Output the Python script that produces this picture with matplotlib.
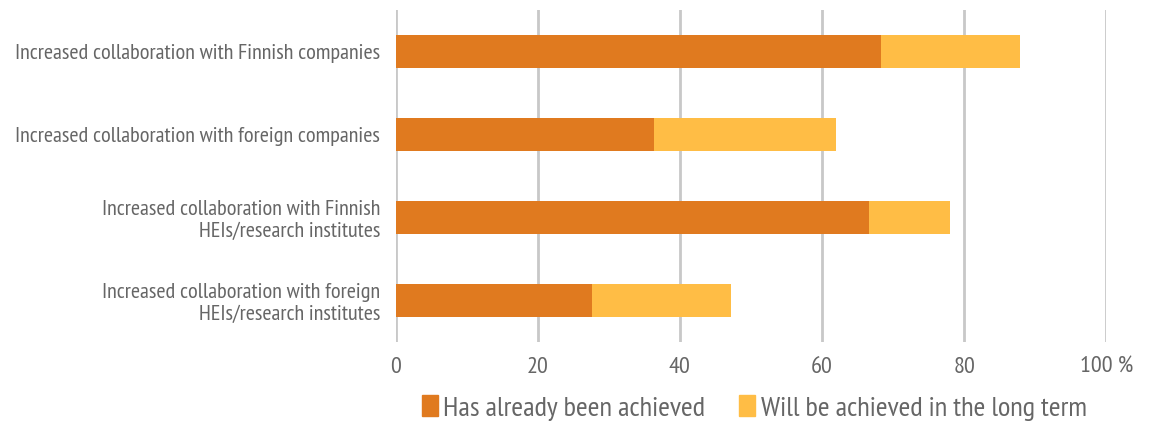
import matplotlib
matplotlib.use("Agg")
import matplotlib.pyplot as plt
from matplotlib.patches import Patch

categories = [
    "Increased collaboration with Finnish companies",
    "Increased collaboration with foreign companies",
    "Increased collaboration with Finnish\nHEIs/research institutes",
    "Increased collaboration with foreign\nHEIs/research institutes",
]
achieved = [68.3, 36.3, 66.6, 27.7]
long_term = [19.5, 25.6, 11.4, 19.5]
series_names = ["Has already been achieved", "Will be achieved in the long term"]
x_ticks = [0, 20, 40, 60, 80, 100]
x_tick_labels = ["0", "20", "40", "60", "80", "100 %"]

DARK = "#E07A1F"
LIGHT = "#FFBD45"
GRID = "#C8C8C8"
TEXT = "#666666"
FONT = ["PT Sans Narrow", "Fira Sans Condensed", "Roboto Condensed",
        "Liberation Sans Narrow", "DejaVu Sans"]

plt.rcParams["font.family"] = FONT

fig = plt.figure(figsize=(11.5, 4.21), dpi=100)
ax = fig.add_axes([0.344, 0.188, 0.618, 0.788])

y = list(range(len(categories)))
h = 0.39
ax.barh(y, achieved, height=h, color=DARK, zorder=3)
ax.barh(y, long_term, left=achieved, height=h, color=LIGHT, zorder=3)

ax.set_xlim(0, 100)
ax.set_ylim(3.5, -0.5)
ax.set_xticks(x_ticks)
ax.set_xticklabels(x_tick_labels, fontsize=17.5, color=TEXT)
ax.set_yticks(y)
ax.set_yticklabels(categories, fontsize=16, color=TEXT, linespacing=1.2)
ax.tick_params(axis="both", length=0)
ax.tick_params(axis="x", pad=11)
ax.tick_params(axis="y", pad=11)
for lbl in ax.get_yticklabels():
    lbl.set_horizontalalignment("right")
    lbl.set_multialignment("right")

for s in ax.spines.values():
    s.set_visible(False)
ax.grid(axis="x", color=GRID, linewidth=2, zorder=0)
ax.set_axisbelow(True)

handles = [Patch(color=DARK, label=series_names[0]),
           Patch(color=LIGHT, label=series_names[1])]
fig.legend(handles=handles, loc="center", bbox_to_anchor=(0.656, 0.031),
           ncol=2, frameon=False, fontsize=20.5, handlelength=0.55,
           handleheight=0.75, handletextpad=0.2, columnspacing=1.2,
           labelcolor=TEXT, borderpad=0)

fig.savefig("out.png", dpi=100)
